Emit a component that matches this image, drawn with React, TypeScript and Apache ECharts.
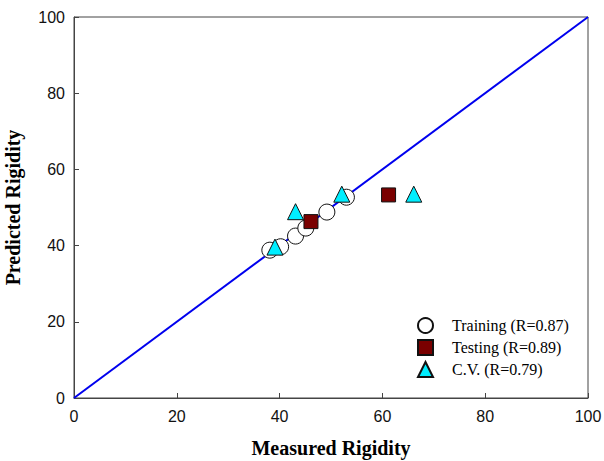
import React, { useEffect, useRef } from "react";
import * as echarts from "echarts";

const trainingX = [38.1, 40.2, 43.1, 45.1, 49.2, 53.0];
const trainingY = [38.8, 39.7, 42.5, 44.6, 48.8, 52.7];
const testingX = [46.1, 61.2];
const testingY = [46.3, 53.3];
const cvX = [39.1, 43.1, 52.1, 66.1];
const cvY = [39.6, 48.9, 53.5, 53.5];
const lineX = [0, 100];
const lineY = [0, 100];
const legendNames = ["Training (R=0.87)", "Testing (R=0.89)", "C.V. (R=0.79)"];

const zip = (a: number[], b: number[]) => a.map((v, i) => [v, b[i]]);

export default function App() {
  const ref = useRef<HTMLDivElement>(null);
  useEffect(() => {
    if (!ref.current) return;
    const chart = echarts.init(ref.current, undefined, { renderer: "svg" });
    const axisCommon = {
      min: 0,
      max: 100,
      interval: 20,
      axisLine: { show: true, lineStyle: { color: "#444", width: 1 } },
      axisTick: { show: true, inside: true, length: 5, lineStyle: { color: "#444" } },
      splitLine: { show: false },
      axisLabel: { color: "#111", fontSize: 16, fontFamily: "Liberation Sans, Arial, sans-serif" },
      nameLocation: "middle" as const,
      nameTextStyle: {
        color: "#000",
        fontSize: 20,
        fontWeight: "bold" as const,
        fontFamily: "Liberation Serif, Times New Roman, serif",
      },
    };
    chart.setOption({
      animation: false,
      grid: {
        left: 74,
        right: 16,
        top: 17,
        bottom: 63,
        outerBoundsMode: "none",
        containLabel: false,
        show: true,
        borderColor: "#444",
        borderWidth: 1,
        backgroundColor: "transparent",
      },
      legend: {
        data: legendNames,
        orient: "vertical",
        left: 412,
        top: 312,
        itemWidth: 15,
        itemHeight: 15,
        itemGap: 5,
        textStyle: {
          fontSize: 16,
          color: "#000",
          fontFamily: "Liberation Serif, Times New Roman, serif",
          padding: [0, 0, 0, 14],
        },
      },
      xAxis: {
        ...axisCommon,
        type: "value",
        name: "Measured Rigidity",
        nameGap: 40,
        axisLabel: { ...axisCommon.axisLabel, margin: 10 },
      },
      yAxis: {
        ...axisCommon,
        type: "value",
        name: "Predicted Rigidity",
        nameGap: 51,
        axisLabel: { ...axisCommon.axisLabel, margin: 9 },
      },
      series: [
        {
          type: "line",
          data: zip(lineX, lineY),
          showSymbol: false,
          lineStyle: { color: "#0000ee", width: 2 },
          silent: true,
          z: 1,
        },
        {
          name: legendNames[0],
          type: "scatter",
          data: zip(trainingX, trainingY),
          symbol: "circle",
          symbolSize: 16,
          itemStyle: { color: "#ffffff", borderColor: "#111", borderWidth: 1, opacity: 1 },
          z: 2,
        },
        {
          name: legendNames[1],
          type: "scatter",
          data: zip(testingX, testingY),
          symbol: "rect",
          symbolSize: 14,
          itemStyle: { color: "#7a0000", borderColor: "#111", borderWidth: 1, opacity: 1 },
          z: 3,
        },
        {
          name: legendNames[2],
          type: "scatter",
          data: zip(cvX, cvY),
          symbol: "triangle",
          symbolSize: 16,
          itemStyle: { color: "#00eeff", borderColor: "#111", borderWidth: 1, opacity: 1 },
          z: 4,
        },
      ],
    });
    return () => chart.dispose();
  }, []);
  return <div ref={ref} style={{ width: 604, height: 461, position: "absolute", left: 0, top: 0 }} />;
}
